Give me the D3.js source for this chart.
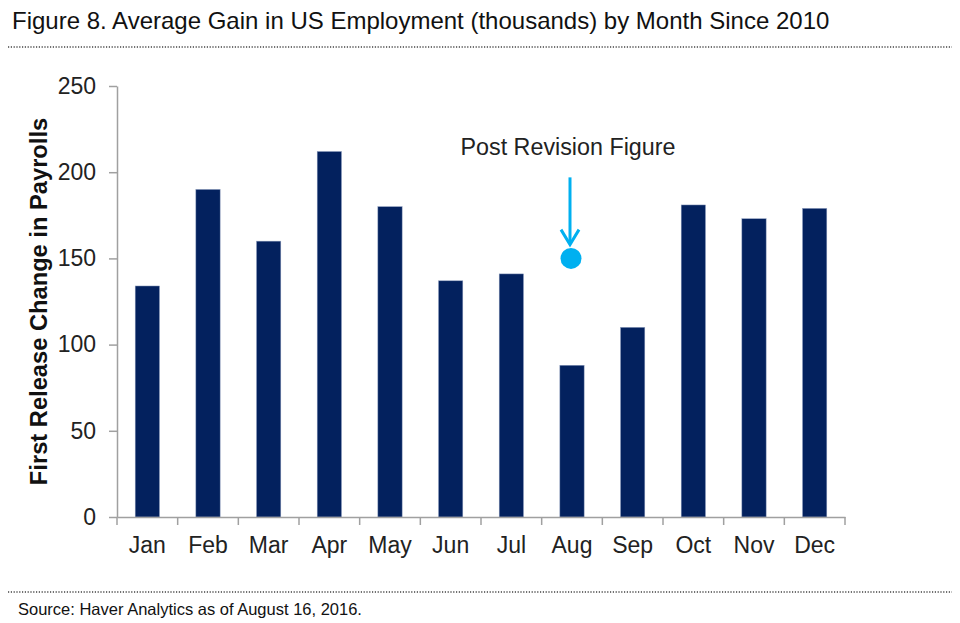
<!DOCTYPE html>
<html>
<head>
<meta charset="utf-8">
<script src="https://cdn.jsdelivr.net/npm/d3@7"></script>
<style>
  html, body { margin: 0; padding: 0; background: #fff; }
  svg { display: block; font-family: "Liberation Sans", Arial, sans-serif; }
</style>
</head>
<body>
<svg id="chart" width="960" height="623"></svg>
<script>
const months = ["Jan","Feb","Mar","Apr","May","Jun","Jul","Aug","Sep","Oct","Nov","Dec"];
const firstRelease = [134, 190, 160, 212, 180, 137, 141, 88, 110, 181, 173, 179];
const yTicks = [0, 50, 100, 150, 200, 250];
const revisedMonth = "Aug";
const revisedValue = 150;
const arrowFromValue = 197;
const arrowToValue = 158;
const labelValue = 210;

const titleText = "Figure 8. Average Gain in US Employment (thousands) by Month Since 2010";
const yTitle = "First Release Change in Payrolls";
const sourceText = "Source: Haver Analytics as of August 16, 2016.";
const annotText = "Post Revision Figure";

(function () {
const svg = d3.select("#chart");
const pLeft = 117, pRight = 845, pTop = 86, pBottom = 517;

const x = d3.scaleBand().domain(months).range([pLeft, pRight]).paddingInner(0.6).paddingOuter(0.3);
const y = d3.scaleLinear().domain([0, 250]).range([pBottom, pTop]);

// Title and dotted rules
svg.append("text").attr("x", 12).attr("y", 29).attr("font-size", 24).attr("fill", "#111").text(titleText);
svg.append("line").attr("x1", 8).attr("x2", 952).attr("y1", 47).attr("y2", 47)
  .attr("stroke", "#444").attr("stroke-width", 1.3).attr("stroke-dasharray", "1.2,1.6");
svg.append("line").attr("x1", 8).attr("x2", 952).attr("y1", 592).attr("y2", 592)
  .attr("stroke", "#444").attr("stroke-width", 1.3).attr("stroke-dasharray", "1.2,1.6");
svg.append("text").attr("x", 18).attr("y", 615).attr("font-size", 16.5).attr("fill", "#111").text(sourceText);

// Bars
svg.append("g").selectAll("rect").data(months).join("rect")
  .attr("x", d => x(d))
  .attr("width", x.bandwidth())
  .attr("y", (d, i) => y(firstRelease[i]))
  .attr("height", (d, i) => y(0) - y(firstRelease[i]))
  .attr("fill", "#03215E")
  .attr("stroke", "#8a9abb").attr("stroke-width", 0.5);

// Y axis
const yAxis = svg.append("g").attr("transform", `translate(${pLeft},0)`)
  .call(d3.axisLeft(y).tickValues(yTicks).tickSize(8).tickPadding(13).tickSizeOuter(0));
yAxis.select(".domain").attr("stroke", "#a0a0a0").attr("stroke-width", 1.5);
yAxis.selectAll(".tick line").attr("stroke", "#a0a0a0").attr("stroke-width", 1.5);
yAxis.selectAll(".tick text").attr("font-size", 23).attr("fill", "#222")
  .attr("font-family", "Liberation Sans, Arial, sans-serif");

// X axis (labels)
const xAxis = svg.append("g").attr("transform", `translate(0,${pBottom})`)
  .call(d3.axisBottom(x).tickSize(0).tickPadding(20).tickSizeOuter(0));
xAxis.select(".domain").attr("stroke", "#a0a0a0").attr("stroke-width", 1.5);
xAxis.selectAll(".tick text").attr("font-size", 23).attr("fill", "#222")
  .attr("font-family", "Liberation Sans, Arial, sans-serif");
// category boundary ticks
const bounds = months.map(d => x(d) - x.step() * x.paddingInner() / 2).concat([pRight]);
svg.append("g").selectAll("line").data(bounds).join("line")
  .attr("x1", d => d).attr("x2", d => d)
  .attr("y1", pBottom).attr("y2", pBottom + 8)
  .attr("stroke", "#a0a0a0").attr("stroke-width", 1.5);

// Y title
svg.append("text")
  .attr("transform", `translate(47,${(pTop + pBottom) / 2}) rotate(-90)`)
  .attr("text-anchor", "middle").attr("font-size", 23.7).attr("font-weight", "bold")
  .attr("fill", "#111").text(yTitle);

// Annotation
const cx = x(revisedMonth) + x.bandwidth() / 2;
const blue = "#00B0F0";
svg.append("text").attr("x", cx - 4).attr("y", y(labelValue)).attr("text-anchor", "middle")
  .attr("font-size", 23.3).attr("fill", "#222").text(annotText);
svg.append("line").attr("x1", cx - 2).attr("x2", cx - 2)
  .attr("y1", y(arrowFromValue)).attr("y2", y(arrowToValue) - 1)
  .attr("stroke", blue).attr("stroke-width", 3);
svg.append("path")
  .attr("d", `M${cx - 11},${y(arrowToValue) - 15} L${cx - 2},${y(arrowToValue)} L${cx + 7},${y(arrowToValue) - 15}`)
  .attr("fill", "none").attr("stroke", blue).attr("stroke-width", 3);
svg.append("circle").attr("cx", cx - 1).attr("cy", y(revisedValue)).attr("r", 10.5).attr("fill", blue);
})();
</script>
</body>
</html>
